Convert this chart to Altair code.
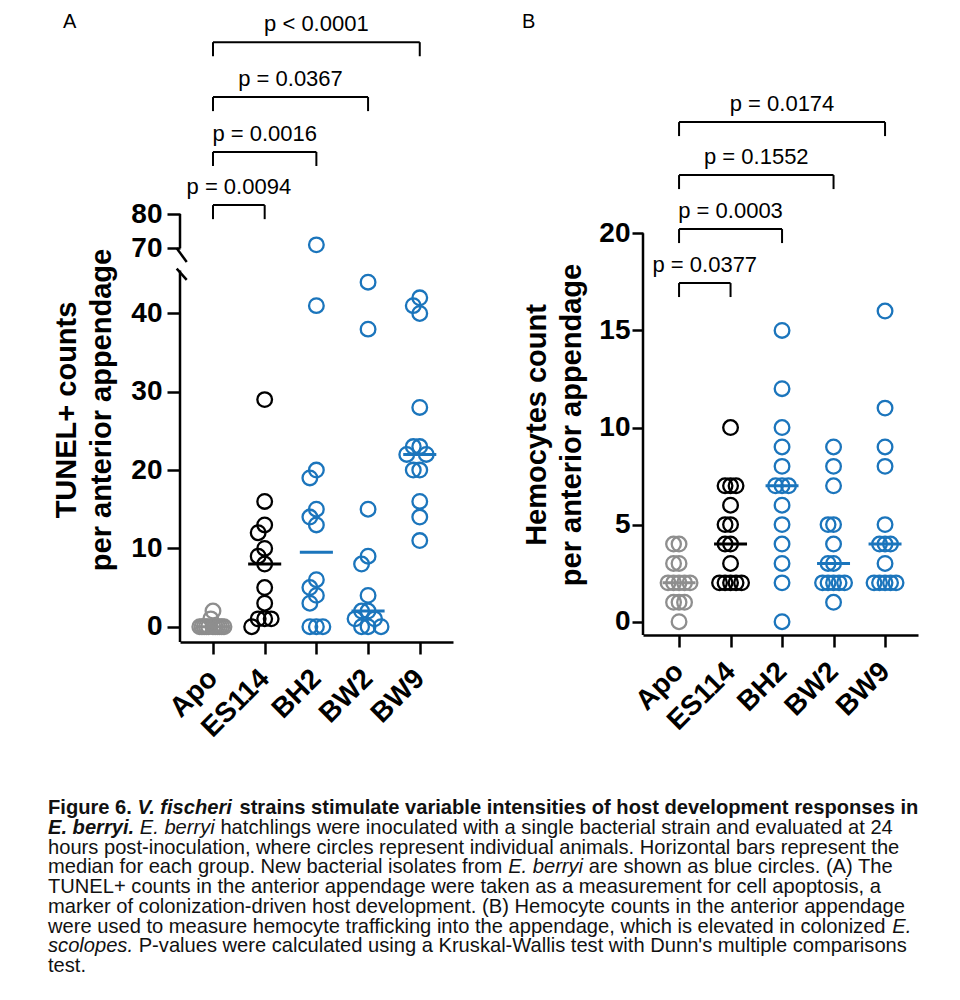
import altair as alt
import pandas as pd
from collections import Counter

# ---------------- data ----------------
groups = ["Apo", "ES114", "BH2", "BW2", "BW9"]
group_colors = ["#8e8e8e", "#000000", "#1b75bc", "#1b75bc", "#1b75bc"]

tunel_apo = [0, 0, 0, 0, 0, 0, 0, 0, 0, 0, 0, 1, 2]
tunel_es114 = [29, 16, 13, 12, 10, 9, 8, 5, 3, 1, 1, 1, 0]
tunel_bh2 = [71, 41, 20, 19, 15, 14, 13, 6, 5, 4, 3, 0, 0, 0]
tunel_bw2 = [44, 38, 15, 9, 8, 4, 2, 2, 1, 1, 0, 0, 0]
tunel_bw9 = [42, 41, 40, 28, 23, 23, 22, 22, 20, 20, 16, 14, 11]

hemo_apo = [4, 4, 3, 3, 2, 2, 2, 2, 2, 1, 1, 1, 0]
hemo_es114 = [10, 7, 7, 7, 6, 5, 5, 4, 4, 3, 2, 2, 2, 2, 2]
hemo_bh2 = [15, 12, 10, 9, 8, 7, 7, 7, 6, 5, 4, 3, 2, 0]
hemo_bw2 = [9, 8, 7, 5, 5, 4, 3, 3, 2, 2, 2, 2, 2, 1]
hemo_bw9 = [16, 11, 9, 8, 5, 4, 4, 4, 3, 2, 2, 2, 2, 2]

tunel_pvals = ["p = 0.0094", "p = 0.0016", "p = 0.0367", "p < 0.0001"]
hemo_pvals = ["p = 0.0377", "p = 0.0003", "p = 0.1552", "p = 0.0174"]

tunel_ticks = [0, 10, 20, 30, 40, 70, 80]
hemo_ticks = [0, 5, 10, 15, 20]

title_a = ["TUNEL+ counts", "per anterior appendage"]
title_b = ["Hemocytes count", "per anterior appendage"]

# caption: lines of (text, style)  b=bold, bi=bold italic, i=italic, n=normal
caption = [
    [("Figure 6.", "b"), ("V. fischeri", "bi"),
     ("strains stimulate variable intensities of host development responses in", "b")],
    [("E. berryi.", "bi"), ("E. berryi", "i"),
     ("hatchlings were inoculated with a single bacterial strain and evaluated at 24", "n")],
    [("hours post-inoculation, where circles represent individual animals. Horizontal bars represent the", "n")],
    [("median for each group. New bacterial isolates from", "n"), ("E. berryi", "i"),
     ("are shown as blue circles. (A) The", "n")],
    [("TUNEL+ counts in the anterior appendage were taken as a measurement for cell apoptosis, a", "n")],
    [("marker of colonization-driven host development. (B) Hemocyte counts in the anterior appendage", "n")],
    [("were used to measure hemocyte trafficking into the appendage, which is elevated in colonized", "n"),
     ("E.", "i")],
    [("scolopes.", "i"),
     ("P-values were calculated using a Kruskal-Wallis test with Dunn's multiple comparisons", "n")],
    [("test.", "n")],
]

# ---------------- layout constants ----------------
FONT = "Liberation Sans"
BLACK = "#000000"

A_W, A_H = 273, 630
B_W, B_H = 275, 623
A_LEFT, B_LEFT, TOP = 180, 643, 12
PX_A, PX_B = 51.7, 51.5          # x pixels per category step
PY_A, PY_B = 7.83, 19.42         # y pixels per unit (lower part of A, all of B)

A_XDOM = [-0.638, 4.643]
B_XDOM = [-0.70, 4.64]
A_YDOM = [-1.954, 45.5, 70, 138.9]
A_YRANGE = [A_H, 258.4, 236.3, 0]
B_YDOM = [-0.685, 31.4]

CAP_LEFT, CAP_TOP, CAP_LH = 48, 808, 19.75
CAP_REF_LINE, CAP_REF_WIDTH = 2, 852.0

# Helvetica / Arial (Liberation Sans) advance widths, per 1000 em
_lc = "abcdefghijklmnopqrstuvwxyz"
_uc = "ABCDEFGHIJKLMNOPQRSTUVWXYZ"
_reg_lc = [556, 556, 500, 556, 556, 278, 556, 556, 222, 222, 500, 222, 833, 556, 556, 556, 556, 333, 500, 278, 556, 500, 722, 500, 500, 500]
_bold_lc = [556, 611, 556, 611, 556, 333, 611, 611, 278, 278, 556, 278, 889, 611, 611, 611, 611, 389, 556, 333, 611, 556, 778, 556, 556, 500]
_reg_uc = [667, 667, 722, 722, 667, 611, 778, 722, 278, 500, 667, 556, 833, 722, 778, 667, 778, 722, 667, 611, 722, 667, 944, 667, 667, 611]
_bold_uc = [722, 722, 722, 722, 667, 611, 778, 722, 278, 556, 722, 611, 833, 722, 778, 667, 778, 722, 667, 611, 722, 667, 944, 667, 667, 611]
_punct = {" ": 278, ".": 278, ",": 278, "-": 333, "(": 333, ")": 333, "+": 584}
W_REG = dict(zip(_lc, _reg_lc), **dict(zip(_uc, _reg_uc)), **_punct, **{"'": 191})
W_BOLD = dict(zip(_lc, _bold_lc), **dict(zip(_uc, _bold_uc)), **_punct, **{"'": 238})
for d in "0123456789":
    W_REG[d] = 556
    W_BOLD[d] = 556


def text_em(s, bold):
    t = W_BOLD if bold else W_REG
    return sum(t.get(c, 556) for c in s) / 1000.0


CAP_SIZE = CAP_REF_WIDTH / text_em(caption[CAP_REF_LINE][0][0], False)


def swarm(values, px_x, px_y, step_px=6.5, span_px=22, near_px=10):
    """Greedy beeswarm: returns x offsets (in category units)."""
    maxn = max(Counter(values).values())
    step = min(step_px, span_px / (maxn - 1)) if maxn > 1 else step_px
    order = sorted(range(len(values)), key=lambda i: -values[i])
    placed = []
    out = [0.0] * len(values)
    for i in order:
        y = values[i] * px_y
        k = 0
        while True:
            cand = ((k + 1) // 2) * (-1 if k % 2 else 1) * step
            if all(not (abs(y - py) < near_px and abs(cand - pxx) < step * 0.95)
                   for pxx, py in placed):
                break
            k += 1
        placed.append((cand, y))
        out[i] = cand / px_x
    return out


def make_df(arrs, px_x, px_y):
    rows = []
    for gi, (g, vals) in enumerate(zip(groups, arrs)):
        for v, o in zip(vals, swarm(vals, px_x, px_y)):
            rows.append({"group": g, "gi": gi, "value": v, "xpos": gi + o})
    return pd.DataFrame(rows)


dfA = make_df([tunel_apo, tunel_es114, tunel_bh2, tunel_bw2, tunel_bw9], PX_A, PY_A)
dfB = make_df([hemo_apo, hemo_es114, hemo_bh2, hemo_bw2, hemo_bw9], PX_B, PY_B)

label_expr = "[" + ",".join("'%s'" % g for g in groups) + "][datum.value]"

color = alt.Color("group:N", scale=alt.Scale(domain=groups, range=group_colors), legend=None)


def panel(df, pvals, xdom, yscale, yticks, width, height, levels, drop, ytitle,
          title_xy, letter, letter_x, axis_segments, slashes, with_caption,
          ytick_size, ylabel_pad):
    xs = alt.Scale(domain=xdom, nice=False, zero=False)
    xax = alt.Axis(values=[0, 1, 2, 3, 4], labelExpr=label_expr, labelAngle=-45,
                   labelAlign="right", labelBaseline="middle", labelPadding=20,
                   labelOffset=0, labelFont=FONT, labelFontSize=28, labelFontWeight="bold",
                   labelColor=BLACK, tickSize=12, tickWidth=2.5, tickColor=BLACK,
                   domainWidth=2.5, domainColor=BLACK, grid=False, title=None,
                   labelOverlap=False)
    yax = alt.Axis(values=yticks, domain=False, tickSize=ytick_size, tickWidth=2.5,
                   tickColor=BLACK, labelFont=FONT, labelFontSize=28,
                   labelFontWeight="bold", labelColor=BLACK, labelPadding=ylabel_pad,
                   grid=False, title=None, labelOverlap=False)

    def X(f):
        return alt.X(f, scale=xs, axis=xax)

    def Y(f):
        return alt.Y(f, scale=yscale, axis=yax)

    layers = []
    # axis line (drawn by hand so it can be broken)
    seg = pd.DataFrame(axis_segments, columns=["y0", "y1"])
    layers.append(alt.Chart(seg).mark_rule(color=BLACK, strokeWidth=2.5).encode(
        x=alt.value(0), y=Y("y0:Q"), y2="y1:Q"))
    if slashes:
        sl = pd.DataFrame(slashes, columns=["x0", "x1", "y0", "y1"])
        layers.append(alt.Chart(sl).mark_rule(color=BLACK, strokeWidth=2.5).encode(
            x=X("x0:Q"), x2="x1:Q", y=Y("y0:Q"), y2="y1:Q"))

    # points
    layers.append(alt.Chart(df).mark_point(shape="circle", filled=False, size=215,
                                           strokeWidth=2.3, opacity=1).encode(
        x=X("xpos:Q"), y=Y("value:Q"), color=color))
    # medians
    layers.append(alt.Chart(df).transform_aggregate(
        med="median(value)", groupby=["group", "gi"]).transform_calculate(
        x0="datum.gi - 0.32", x1="datum.gi + 0.32").mark_rule(strokeWidth=3).encode(
        x=X("x0:Q"), x2="x1:Q", y=Y("med:Q"), color=color))

    # significance brackets
    br = pd.DataFrame({"x0": [0] * 4, "x1": [1, 2, 3, 4], "lvl": levels, "p": pvals})
    br["low"] = br["lvl"] - drop
    br["mid"] = (br["x0"] + br["x1"]) / 2
    base = alt.Chart(br)
    layers.append(base.mark_rule(color=BLACK, strokeWidth=2).encode(
        x=X("x0:Q"), x2="x1:Q", y=Y("lvl:Q")))
    layers.append(base.mark_rule(color=BLACK, strokeWidth=2).encode(
        x=X("x0:Q"), y=Y("lvl:Q"), y2="low:Q"))
    layers.append(base.mark_rule(color=BLACK, strokeWidth=2).encode(
        x=X("x1:Q"), y=Y("lvl:Q"), y2="low:Q"))
    layers.append(base.mark_text(font=FONT, fontSize=22, color=BLACK, baseline="alphabetic",
                                 dy=-11).encode(x=X("mid:Q"), y=Y("lvl:Q"), text="p:N"))

    one = pd.DataFrame({"k": [0]})
    # y title (first line at the anchor, second line follows to the right)
    layers.append(alt.Chart(one).mark_text(
        text=ytitle, angle=270, font=FONT, fontSize=29, fontWeight="bold",
        lineHeight=35, color=BLACK, align="center", baseline="middle").encode(
        x=alt.value(title_xy[0]), y=alt.value(title_xy[1])))
    # panel letter
    layers.append(alt.Chart(one).mark_text(
        text=letter, font=FONT, fontSize=20, color=BLACK, align="left",
        baseline="top").encode(x=alt.value(letter_x), y=alt.value(0)))

    if with_caption:
        styles = {"b": ("bold", "normal"), "bi": ("bold", "italic"),
                  "i": ("normal", "italic"), "n": ("normal", "normal")}
        for li, line in enumerate(caption):
            xpos = CAP_LEFT
            for txt, st in line:
                w, s = styles[st]
                layers.append(alt.Chart(one).mark_text(
                    text=txt, font=FONT, fontSize=CAP_SIZE, fontWeight=w, fontStyle=s,
                    lineHeight=CAP_LH, color="#111111", align="left", baseline="middle").encode(
                    x=alt.value(xpos - A_LEFT), y=alt.value(CAP_TOP - TOP + li * CAP_LH)))
                xpos += (text_em(txt, w == "bold") + 0.278) * CAP_SIZE

    return alt.layer(*layers).properties(width=width, height=height)


yscaleA = alt.Scale(domain=A_YDOM, range=A_YRANGE, nice=False, zero=False)
yscaleB = alt.Scale(domain=B_YDOM, nice=False, zero=False)

chartA = panel(dfA, tunel_pvals, A_XDOM, yscaleA, tunel_ticks, A_W, A_H,
               levels=[82.6, 98.1, 114.1, 130.1], drop=4.1, ytitle=title_a,
               title_xy=(67 - A_LEFT, 410 - TOP), letter="A", letter_x=63 - A_LEFT,
               axis_segments=[[A_YDOM[0], 45.5], [70, 80]],
               slashes=[[-0.702, -0.508, 70, 54.9], [-0.702, -0.508, 47.4, 44.3]],
               with_caption=True, ytick_size=13, ylabel_pad=5)

chartB = panel(dfB, hemo_pvals, B_XDOM, yscaleB, hemo_ticks, B_W, B_H,
               levels=[17.44, 20.22, 23.0, 25.73], drop=0.72, ytitle=title_b,
               title_xy=(537 - B_LEFT, 425 - TOP), letter="B", letter_x=522 - B_LEFT,
               axis_segments=[[B_YDOM[0], 20]], slashes=None, with_caption=False,
               ytick_size=11, ylabel_pad=2)

chart = alt.hconcat(chartA, chartB, spacing=B_LEFT - A_LEFT - A_W, bounds="flush").properties(
    padding={"left": 40, "top": 4, "right": 5, "bottom": 5}
).configure_view(stroke=None)

chart.save("out.html", embed_options={"renderer": "svg", "actions": False})
